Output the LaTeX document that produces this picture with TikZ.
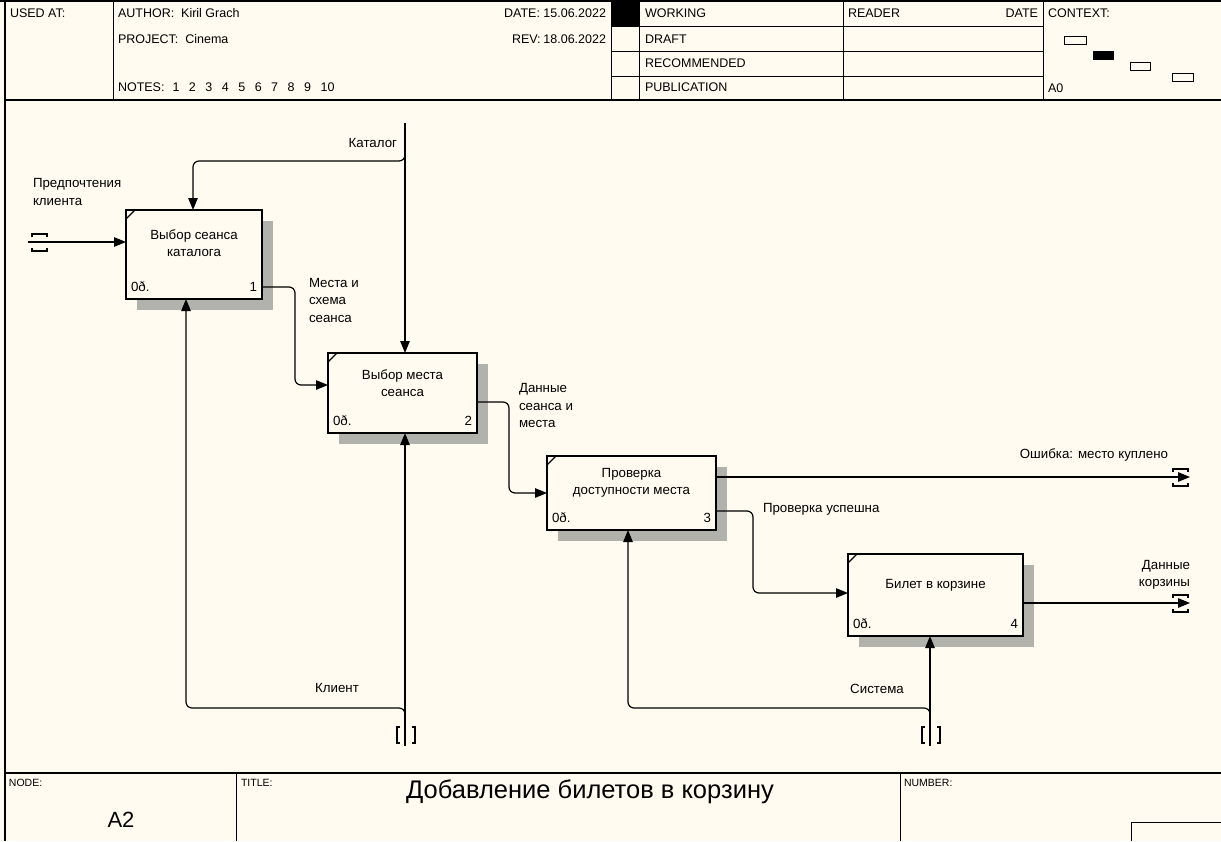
\documentclass[tikz,border=0pt]{standalone}
\usepackage{fontspec}
\setmainfont{Liberation Sans}
\usetikzlibrary{arrows.meta,calc,shadows}

\definecolor{paper}{RGB}{255,251,240}
\definecolor{shade}{RGB}{178,178,172}

\begin{document}
\begin{tikzpicture}[x=1pt,y=-1pt,
  every node/.style={inner sep=0pt, outer sep=0pt, font=\fontsize{13.3}{17.5}\selectfont},
  actbox/.style={draw, line width=1.9pt, fill=paper, rectangle,
    drop shadow={shadow xshift=11pt, shadow yshift=-11pt, fill=shade, opacity=1}},
  arr/.style={line width=1.2pt, -{Triangle[length=12pt,width=9.5pt]}, rounded corners=6pt},
  tun/.style={line width=1.1pt},
  frame/.style={line width=1.6pt},
  grid/.style={line width=0.9pt},
  hdr/.style={font=\fontsize{12.5}{14}\selectfont, anchor=west},
  small/.style={font=\fontsize{10.5}{12}\selectfont, anchor=west},
  lbl/.style={align=left, anchor=west},
]
% page
\fill[paper] (0,0) rectangle (1221,841);
\useasboundingbox (0,0) rectangle (1221,841);

% ---------- header ----------
\draw[frame] (0,1) -- (1221,1);
\draw[frame] (5,1) -- (5,841);
\draw[frame] (5,100) -- (1221,100);
\draw[grid] (113,1) -- (113,100);
\draw[grid] (611,1) -- (611,100);
\draw[grid] (639,1) -- (639,100);
\draw[grid] (843,1) -- (843,100);
\draw[grid] (1043,1) -- (1043,100);
\draw[grid] (611,26) -- (1043,26);
\draw[grid] (611,51) -- (1043,51);
\draw[grid] (611,76) -- (1043,76);
\fill (611,1) rectangle (639,26);

\newcommand{\ngap}{\hspace{9.5pt}}
\node[hdr] (usedat) at (10,13) {USED AT:};
\node[hdr] (author) at (118,13) {AUTHOR:\ \ Kiril Grach};
\node[hdr] (project) at (118,39) {PROJECT:\ \ Cinema};
\node[hdr] (notes) at (118,87) {NOTES:\hspace{8pt}1\ngap2\ngap3\ngap4\ngap5\ngap6\ngap7\ngap8\ngap9\ngap10};
\node[hdr,anchor=east] (date) at (606,13) {DATE:\ 15.06.2022};
\node[hdr] (revk) at (512,39) {REV:};
\node[hdr,anchor=east] (revv) at (606,39) {18.06.2022};
\node[hdr] (working) at (645,13) {WORKING};
\node[hdr] (draft) at (645,39) {DRAFT};
\node[hdr] (recom) at (645,63) {RECOMMENDED};
\node[hdr] (publ) at (645,87) {PUBLICATION};
\node[hdr] (reader) at (848,13) {READER};
\node[hdr,anchor=east] (rdate) at (1038,13) {DATE};
\node[hdr] (context) at (1048,13) {CONTEXT:};
\node[hdr] (azero) at (1048,88) {A0};

% context thumbnail
\draw[line width=1pt] (1064,36) rectangle (1086,44);
\fill (1093,51) rectangle (1114,60);
\draw[line width=1pt] (1130,62) rectangle (1150,70);
\draw[line width=1pt] (1172,73) rectangle (1193,81);

% ---------- footer ----------
\draw[frame] (5,773) -- (1221,773);
\draw[grid] (236,773) -- (236,841);
\draw[grid] (900,773) -- (900,841);
\draw[grid] (1131,841) -- (1131,822) -- (1221,822);
\node[small] (nodek) at (9,783) {NODE:};
\node[small] (titlek) at (241,783) {TITLE:};
\node[small] (numk) at (904,783) {NUMBER:};
\node[font=\fontsize{25.5}{28}\selectfont] (title) at (590,792) {Добавление билетов в корзину};
\node[font=\fontsize{22}{26}\selectfont] (nodeid) at (121,820) {A2};

% ---------- activity boxes ----------
\node[actbox, minimum width=136, minimum height=89] (b1) at (194,254.5) {};
\node[actbox, minimum width=149, minimum height=80] (b2) at (402.5,393) {};
\node[actbox, minimum width=169, minimum height=74] (b3) at (631.5,493) {};
\node[actbox, minimum width=175, minimum height=82] (b4) at (935.5,595) {};

\foreach \b in {b1,b2,b3,b4}
  \draw[line width=1.2pt] ($(\b.north west)+(0,9)$) -- ($(\b.north west)+(9,0)$);

\node[align=center] (b1t) at ($(b1.north)+(0,33)$) {Выбор сеанса\\каталога};
\node[align=center] (b2t) at ($(b2.north)+(0,30)$) {Выбор места\\сеанса};
\node[align=center] (b3t) at ($(b3.north)+(0,27)$) {Проверка\\доступности места};
\node[align=center] (b4t) at ($(b4.north)+(0,31)$) {Билет в корзине};

\foreach \b/\n in {b1/1,b2/2,b3/3,b4/4}{
  \node[anchor=west] (\b c) at ($(\b.south west)+(5,-12)$) {0ð.};
  \node[anchor=east] (\b n) at ($(\b.south east)+(-5,-12)$) {\n};
}

% ---------- boundary points ----------
\coordinate (in1) at (28,242);
\coordinate (kt) at (405,123);
\coordinate (kj) at (405,161);
\coordinate (o1) at (1190,477);
\coordinate (o2) at (1190,603);
\coordinate (m1) at (405,746);
\coordinate (mj1) at (405,708);
\coordinate (m2) at (930,746);
\coordinate (mj2) at (930,708);

% ---------- arrows ----------
% input
\draw[arr] (in1) -- (b1.west |- in1);
\draw[tun] ($(in1)+(4,-5)$) -- ++(0,-3) -- ++(15,0) -- ++(0,3);
\draw[tun] ($(in1)+(4,6)$) -- ++(0,3) -- ++(15,0) -- ++(0,-3);

% control
\draw[arr] (kt) -- (kt |- b2.north);
\draw[arr] ($(kj)+(0,-10)$) -- (kj) -| ($(b1.north)+(-1,0)$);

% flows between activities
\draw[arr] ($(b1.south east)+(0,-12)$) -- ++(33,0) |- ($(b2.west)+(0,-8)$);
\draw[arr] ($(b2.east)+(0,9)$) -- ++(32,0) |- (b3.west);
\draw[arr] ($(b3.south east)+(0,-19)$) -- ++(37,0) |- ($(b4.west)+(0,-2)$);

% outputs
\draw[arr] (b3.east |- o1) -- (o1);
\draw[arr] (b4.east |- o2) -- (o2);
\foreach \o in {o1,o2}{
  \draw[tun] ($(\o)+(-17,-5)$) -- ++(0,-3) -- ++(15,0) -- ++(0,3);
  \draw[tun] ($(\o)+(-17,6)$) -- ++(0,3) -- ++(15,0) -- ++(0,-3);
}

% mechanisms
\draw[arr] (m1) -- (m1 |- b2.south);
\draw[arr] ($(mj1)+(0,10)$) -- (mj1) -| ($(b1.south)+(-8,0)$);
\draw[arr] (m2) -- (m2 |- b4.south);
\draw[arr] ($(mj2)+(0,10)$) -- (mj2) -| ($(b3.south)+(-3.5,0)$);
\foreach \m in {m1,m2}{
  \draw[tun] ($(\m)+(-5,-19)$) -- ++(-3,0) -- ++(0,16) -- ++(3,0);
  \draw[tun] ($(\m)+(7,-19)$) -- ++(3,0) -- ++(0,16) -- ++(-3,0);
}

% ---------- arrow labels ----------
\node[lbl] (lpref) at (33,192) {Предпочтения\\клиента};
\node[anchor=east] (lkat) at (397,143) {Каталог};
\node[lbl] (lmesta) at (309,300) {Места и\\схема\\сеанса};
\node[lbl] (ldata) at (519,405.5) {Данные\\сеанса и\\места};
\node[anchor=east] (lerr) at (1168,455) {Ошибка: место куплено};
\node[anchor=west] (lok) at (763,509) {Проверка успешна};
\node[align=right, anchor=east] (lcart) at (1190,575) {Данные\\корзины};
\node (lklient) at (337,688) {Клиент};
\node (lsys) at (877,689) {Система};
\end{tikzpicture}
\end{document}
